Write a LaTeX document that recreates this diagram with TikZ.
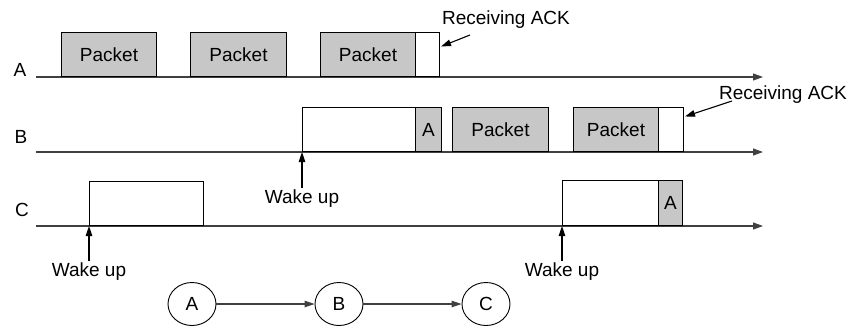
\documentclass[tikz,border=0pt]{standalone}
\usepackage{fontspec}
\setmainfont{Liberation Sans}
\usetikzlibrary{arrows.meta,calc,shapes.geometric}

\begin{document}
\begin{tikzpicture}[x=1pt, y=-1pt,
	every node/.style={font=\fontsize{19}{21}\selectfont},
	pkt/.style={draw, fill=black!22, line width=1pt, anchor=south west, inner sep=0pt, minimum height=44pt},
	slot/.style={draw, fill=white, line width=1pt, anchor=south west, inner sep=0pt, minimum height=44pt},
	axis/.style={line width=1.1pt, color=black!75, -{Triangle[length=10pt,width=7pt]}},
	pointer/.style={line width=1.1pt, -{Triangle[length=10pt,width=6.5pt]}},
	station/.style={draw, ellipse, minimum width=48pt, minimum height=43pt, inner sep=0pt, line width=0.9pt}]
			%%%%% START %%%%%
			
			\useasboundingbox (0,0) rectangle (849,327);
			
			\node (lblA) at (20,70) {A};
			\node (lblB) at (21,137) {B};
			\node (lblC) at (22,210) {C};
			
			\coordinate (startA) at (36,77);
			\coordinate (endA) at (763,77);
			\coordinate (startB) at (36,152);
			\coordinate (endB) at (763,152);
			\coordinate (startC) at (36,226);
			\coordinate (endC) at (763,226);
			\draw[axis] (startA) -- (endA);
			\draw[axis] (startB) -- (endB);
			\draw[axis] (startC) -- (endC);
			
			\node[pkt, minimum width=95pt] (pA1) at (61,77) {Packet};
			\node[pkt, minimum width=96pt] (pA2) at (190,77) {Packet};
			\node[pkt, minimum width=95pt] (pA3) at (320,77) {Packet};
			\node[slot, minimum width=24pt] (ackA) at (415,77) {};
			
			\node[slot, minimum width=113pt] (wakeB) at (302,152) {};
			\node[pkt, minimum width=26pt] (aB) at (415,152) {A};
			\node[pkt, minimum width=96pt] (pB1) at (452,152) {Packet};
			\node[pkt, minimum width=85pt] (pB2) at (573,152) {Packet};
			\node[slot, minimum width=25pt] (ackB) at (658,152) {};
			
			\node[slot, minimum width=114pt] (wakeC1) at (89,226) {};
			\node[slot, minimum width=96pt, minimum height=45pt] (wakeC2) at (562,226) {};
			\node[pkt, minimum width=24pt, minimum height=45pt] (aC) at (658,226) {A};
			
			\node[anchor=base] (txtAckA) at (506,24) {Receiving ACK};
			\coordinate (tailA) at (470,35);
			\draw[pointer] (tailA) -- ($(ackA.east)+(1,-8)$);
			
			\node[anchor=base] (txtAckB) at (783,99) {Receiving ACK};
			\coordinate (tailB) at (732,101);
			\draw[pointer] (tailB) -- ($(ackB.east)+(1,-13)$);
			
			\node[anchor=base, inner sep=1pt] (upB) at (302,203) {Wake up};
			\draw[pointer] (upB.north) -- (wakeB.south west);
			\node[anchor=base, inner sep=1pt] (upC1) at (89,276) {Wake up};
			\draw[pointer] (upC1.north) -- (wakeC1.south west);
			\node[anchor=base, inner sep=1pt] (upC2) at (562,276) {Wake up};
			\draw[pointer] (upC2.north) -- (wakeC2.south west);
			
			\node[station] (stA) at (192,304) {A};
			\node[station] (stB) at (339,304) {B};
			\node[station] (stC) at (486,304) {C};
			\draw[pointer, color=black!75] (stA) -- (stB);
			\draw[pointer, color=black!75] (stB) -- (stC);
			
			%%%%% END %%%%%
		\end{tikzpicture}
\end{document}
